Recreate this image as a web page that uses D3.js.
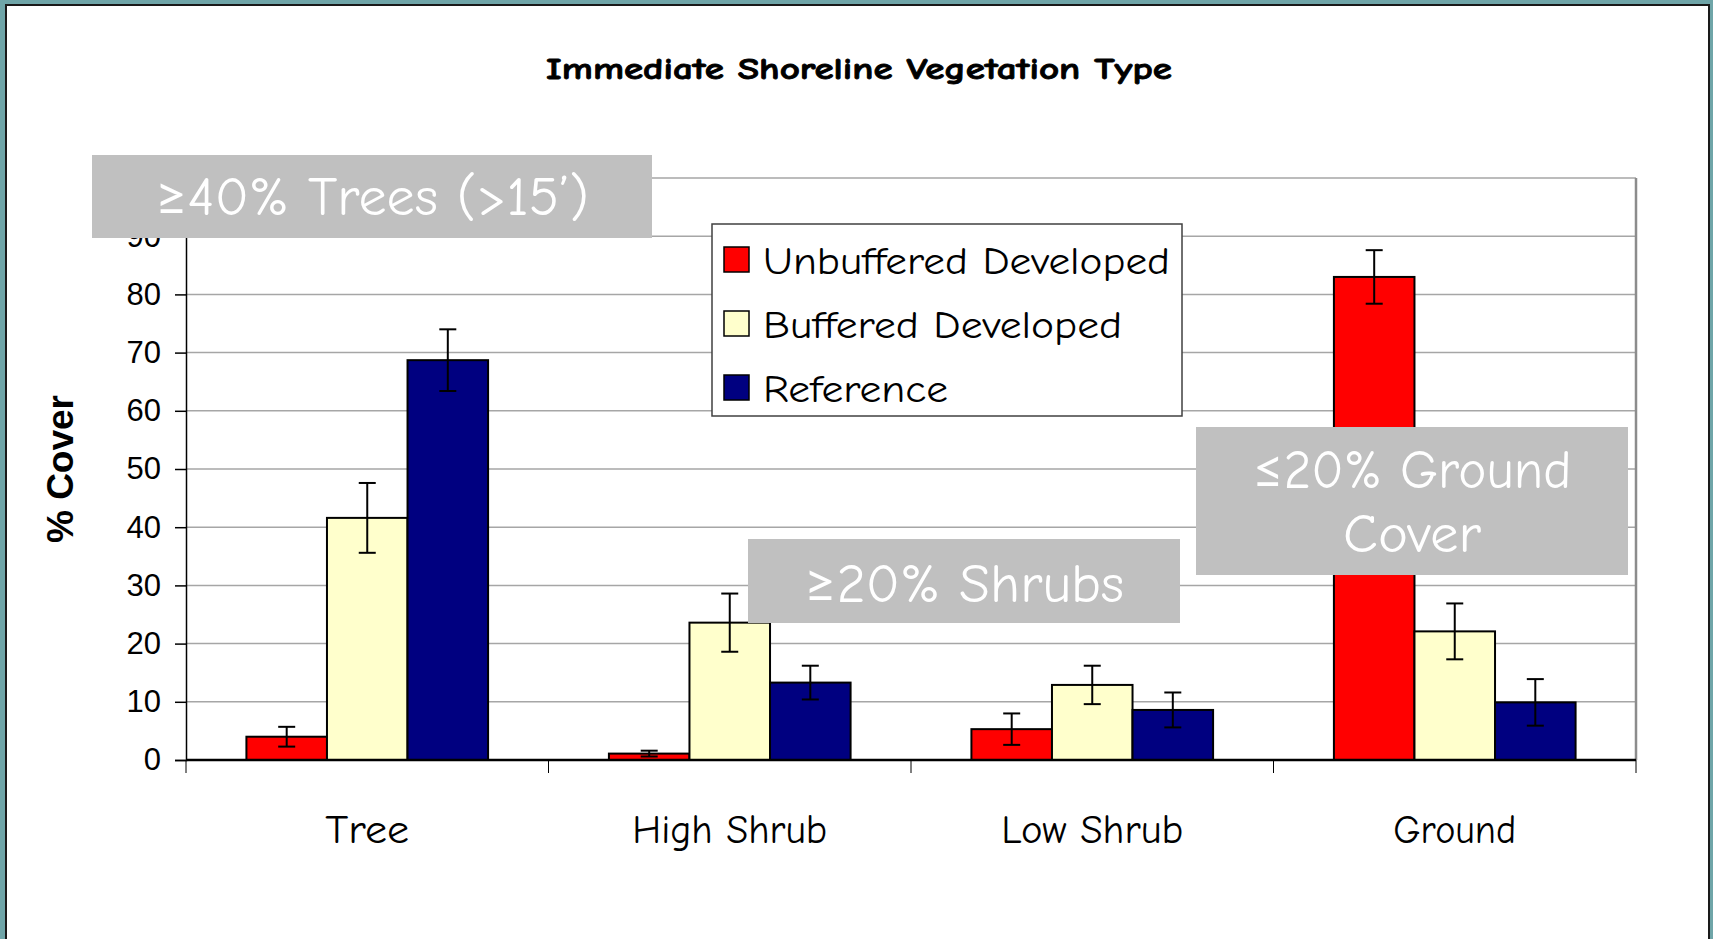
<!DOCTYPE html>
<html>
<head>
<meta charset="utf-8">
<script src="https://cdn.jsdelivr.net/npm/d3@7"></script>
<style>
  body { margin: 0; background: #6fa5a8; }
  svg { display: block; }
</style>
</head>
<body>
<div id="chart"></div>
<script>
// chart values
var categories = ["Tree", "High Shrub", "Low Shrub", "Ground"];
var seriesNames = ["Unbuffered Developed", "Buffered Developed", "Reference"];
var unbuffered = [4.0, 1.1, 5.3, 83.0];
var unbufferedErr = [1.7, 0.5, 2.7, 4.6];
var buffered = [41.6, 23.6, 12.9, 22.1];
var bufferedErr = [6.0, 5.0, 3.3, 4.8];
var reference = [68.7, 13.3, 8.6, 9.9];
var referenceErr = [5.3, 2.9, 3.0, 4.0];
var yTicks = [0, 10, 20, 30, 40, 50, 60, 70, 80, 90];
var yMax = 100;

var colors = ["#ff0000", "#ffffcc", "#000080"];
var comic = "'Comic Sans MS', 'Comic Neue', Lato, sans-serif";

var svgWidth = 1713;
var svgHeight = 939;

var margin = { top: 178, right: 77, bottom: 179, left: 186 };
var chartWidth = svgWidth - margin.left - margin.right;
var chartHeight = svgHeight - margin.top - margin.bottom;

var svg = d3.select("#chart")
    .append("svg")
    .attr("width", svgWidth)
    .attr("height", svgHeight);

// slide frame
svg.append("rect")
    .attr("x", 6).attr("y", 5)
    .attr("width", 1703).attr("height", 960)
    .attr("fill", "white")
    .attr("stroke", "#1a1a1a")
    .attr("stroke-width", 2);

svg.append("text")
    .attr("x", 859).attr("y", 79)
    .attr("text-anchor", "middle")
    .attr("font-family", comic)
    .attr("font-weight", "bold")
    .attr("font-size", 30)
    .attr("stroke", "black")
    .attr("stroke-width", 0.8)
    .attr("textLength", 626)
    .attr("lengthAdjust", "spacingAndGlyphs")
    .text("Immediate Shoreline Vegetation Type");

var chartGroup = svg.append("g")
    .attr("transform", `translate(${margin.left}, ${margin.top})`);

var series = [
    { name: seriesNames[0], values: unbuffered, errs: unbufferedErr },
    { name: seriesNames[1], values: buffered, errs: bufferedErr },
    { name: seriesNames[2], values: reference, errs: referenceErr }
];

var x0 = d3.scaleBand()
    .domain(categories)
    .range([0, chartWidth]);

// gap width 150% of a bar, like the spreadsheet default
var bw = x0.bandwidth() / 4.5;
var x1 = d3.scaleBand()
    .domain(seriesNames)
    .range([bw * 0.75, bw * 3.75]);

var y = d3.scaleLinear()
    .domain([0, yMax])
    .range([chartHeight, 0]);

// gridlines (plus top border of the plot)
chartGroup.append("g")
    .selectAll("line")
    .data(yTicks.filter(d => d > 0).concat([yMax]))
    .enter()
    .append("line")
    .attr("x1", 0).attr("x2", chartWidth)
    .attr("y1", d => y(d)).attr("y2", d => y(d))
    .attr("stroke", "#a6a6a6")
    .attr("stroke-width", 1.5);

// plot border right side
chartGroup.append("line")
    .attr("x1", chartWidth).attr("x2", chartWidth)
    .attr("y1", 0).attr("y2", chartHeight)
    .attr("stroke", "#8c8c8c")
    .attr("stroke-width", 2.5);

// bars
var catGroups = chartGroup.append("g")
    .selectAll("g")
    .data(categories)
    .enter()
    .append("g")
    .attr("transform", d => `translate(${x0(d)},0)`);

catGroups.selectAll("rect")
    .data((c, i) => series.map((s, j) => ({ name: s.name, v: s.values[i], e: s.errs[i], k: j })))
    .enter()
    .append("rect")
    .attr("x", d => x1(d.name))
    .attr("y", d => y(d.v))
    .attr("width", x1.bandwidth())
    .attr("height", d => chartHeight - y(d.v))
    .attr("fill", d => colors[d.k])
    .attr("stroke", "black")
    .attr("stroke-width", 2);

// error bars
var errGroups = catGroups.selectAll("g.err")
    .data((c, i) => series.map(s => ({ name: s.name, v: s.values[i], e: s.errs[i] })))
    .enter()
    .append("g")
    .attr("class", "err")
    .attr("stroke", "black")
    .attr("stroke-width", 2);

errGroups.append("line")
    .attr("x1", d => x1(d.name) + x1.bandwidth() / 2)
    .attr("x2", d => x1(d.name) + x1.bandwidth() / 2)
    .attr("y1", d => y(d.v + d.e))
    .attr("y2", d => y(d.v - d.e));

[1, -1].forEach(function (sgn) {
    errGroups.append("line")
        .attr("x1", d => x1(d.name) + x1.bandwidth() / 2 - 8.5)
        .attr("x2", d => x1(d.name) + x1.bandwidth() / 2 + 8.5)
        .attr("y1", d => y(d.v + sgn * d.e))
        .attr("y2", d => y(d.v + sgn * d.e));
});

// axes
var leftAxis = d3.axisLeft(y)
    .tickValues(yTicks)
    .tickSize(11)
    .tickPadding(14);

var yAxis = chartGroup.append("g")
    .call(leftAxis);
yAxis.select(".domain").attr("stroke", "black").attr("stroke-width", 1.5);
yAxis.selectAll(".tick line").attr("stroke", "black").attr("stroke-width", 1.5);
yAxis.selectAll("text")
    .attr("font-family", "Liberation Sans, Arial, sans-serif")
    .attr("font-size", 31)
    .attr("fill", "black");

var xAxis = chartGroup.append("g")
    .attr("transform", `translate(0, ${chartHeight})`);
xAxis.append("line")
    .attr("x1", 0).attr("x2", chartWidth)
    .attr("stroke", "black").attr("stroke-width", 2.5);
xAxis.selectAll("line.tk")
    .data(d3.range(categories.length + 1))
    .enter()
    .append("line")
    .attr("class", "tk")
    .attr("x1", d => d * x0.step()).attr("x2", d => d * x0.step())
    .attr("y1", 0).attr("y2", 13)
    .attr("stroke", "black").attr("stroke-width", 1);

var catWidths = { "Tree": 84, "High Shrub": 195, "Low Shrub": 182, "Ground": 123 };
xAxis.selectAll("text")
    .data(categories)
    .enter()
    .append("text")
    .attr("x", d => x0(d) + x0.bandwidth() / 2)
    .attr("y", 83)
    .attr("text-anchor", "middle")
    .attr("font-family", comic)
    .attr("font-size", 40)
    .attr("textLength", d => catWidths[d])
    .attr("lengthAdjust", "spacingAndGlyphs")
    .text(d => d);

chartGroup.append("text")
    .attr("transform", "rotate(-90)")
    .attr("x", -chartHeight / 2)
    .attr("y", -126)
    .attr("dy", "0.35em")
    .attr("text-anchor", "middle")
    .attr("font-family", "Liberation Sans, Arial, sans-serif")
    .attr("font-weight", "bold")
    .attr("font-size", 37)
    .text("% Cover");

// legend
var legend = svg.append("g")
    .attr("transform", "translate(712, 224)");
legend.append("rect")
    .attr("width", 470).attr("height", 192)
    .attr("fill", "white")
    .attr("stroke", "#404040")
    .attr("stroke-width", 1.5);

var legendWidths = [407, 359, 185];
var items = legend.selectAll("g.item")
    .data(seriesNames)
    .enter()
    .append("g")
    .attr("class", "item")
    .attr("transform", (d, i) => `translate(0, ${23 + i * 64})`);
items.append("rect")
    .attr("x", 12).attr("width", 25).attr("height", 25)
    .attr("fill", (d, i) => colors[i])
    .attr("stroke", "black")
    .attr("stroke-width", 1.5);
items.append("text")
    .attr("x", 51).attr("y", 27)
    .attr("font-family", comic)
    .attr("font-size", 39)
    .attr("textLength", (d, i) => legendWidths[i])
    .attr("lengthAdjust", "spacingAndGlyphs")
    .text(d => d);

// gray callout boxes
var notes = [
    { x: 92, y: 155, w: 560, h: 83, lines: ["≥40% Trees (>15’)"], widths: [434], base: 60 },
    { x: 748, y: 539, w: 432, h: 84, lines: ["≥20% Shrubs"], widths: [320], base: 63 },
    { x: 1196, y: 427, w: 432, h: 148, lines: ["≤20% Ground", "Cover"], widths: [319, 138], base: 61 }
];

notes.forEach(function (n) {
    var g = svg.append("g").attr("transform", `translate(${n.x}, ${n.y})`);
    g.append("rect")
        .attr("width", n.w).attr("height", n.h)
        .attr("fill", "#c0c0c0");
    n.lines.forEach(function (t, i) {
        g.append("text")
            .attr("x", n.w / 2)
            .attr("y", n.base + i * 64)
            .attr("text-anchor", "middle")
            .attr("font-family", comic)
            .attr("font-size", 55)
            .attr("fill", "white")
            .attr("textLength", n.widths[i])
            .attr("lengthAdjust", "spacingAndGlyphs")
            .text(t);
    });
});
</script>
</body>
</html>
